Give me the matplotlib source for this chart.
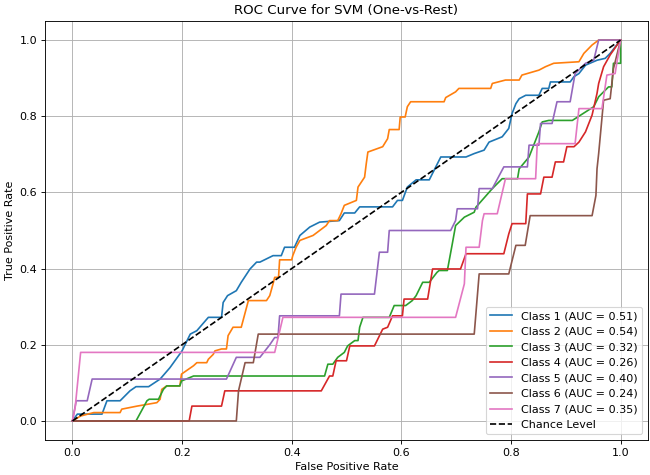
import matplotlib
matplotlib.use('Agg')
import matplotlib.pyplot as plt

# ROC points
fpr_1 = [0, .009, .054, .063, .087, .105, .116, .139, .16, .178, .2, .215, .227, .248, .272, .275, .283, .299, .308, .324, .336, .342, .366, .381, .387, .405, .415, .433, .451, .487, .496, .515, .524, .584, .593, .602, .611, .627, .651, .672, .718, .733, .751, .76, .784, .796, .802, .809, .815, .827, .851, .857, .869, .872, .908, .915, .924, .936, .957, .972, .981, 1]
tpr_1 = [0, .018, .018, .053, .053, .079, .09, .09, .11, .14, .184, .228, .237, .272, .272, .311, .329, .342, .364, .399, .417, .417, .434, .434, .456, .456, .487, .509, .522, .526, .546, .546, .562, .562, .579, .579, .614, .633, .633, .693, .693, .702, .711, .732, .746, .768, .807, .833, .846, .855, .855, .873, .873, .89, .89, .904, .912, .934, .947, .952, .965, 1]

fpr_2 = [0, .015, .039, .087, .09, .118, .154, .16, .163, .172, .196, .199, .208, .221, .227, .245, .248, .257, .26, .272, .281, .284, .293, .308, .321, .354, .36, .366, .369, .376, .378, .4, .402, .408, .415, .439, .451, .463, .469, .484, .49, .496, .518, .521, .533, .536, .539, .566, .575, .578, .596, .598, .607, .611, .617, .678, .681, .699, .705, .763, .766, .79, .815, .82, .851, .863, .878, .924, .933, .948, .96, 1]
tpr_2 = [0, .013, .022, .022, .031, .039, .048, .057, .083, .092, .092, .123, .132, .145, .153, .153, .162, .175, .184, .189, .189, .224, .246, .246, .316, .316, .329, .36, .377, .377, .423, .423, .434, .456, .474, .487, .5, .513, .526, .526, .544, .566, .579, .614, .64, .675, .706, .72, .741, .765, .765, .798, .798, .825, .838, .838, .849, .864, .873, .873, .886, .895, .895, .908, .921, .93, .939, .943, .965, .987, 1, 1]

fpr_3 = [0, .116, .136, .14, .157, .166, .172, .196, .199, .221, .46, .466, .475, .484, .496, .502, .515, .521, .524, .53, .578, .587, .608, .62, .627, .639, .651, .665, .669, .684, .693, .699, .715, .733, .736, .766, .784, .812, .815, .833, .851, .857, .869, .912, .951, .96, .978, .984, .987, 1, 1]
tpr_3 = [0, 0, .053, .057, .057, .083, .092, .092, .105, .118, .118, .149, .149, .167, .18, .197, .211, .211, .246, .272, .272, .303, .303, .316, .329, .364, .364, .39, .395, .395, .465, .513, .535, .548, .561, .61, .636, .636, .662, .693, .759, .785, .789, .789, .825, .851, .877, .877, .939, .939, 1]

fpr_4 = [0, .213, .218, .272, .278, .454, .469, .475, .481, .5, .506, .551, .566, .575, .584, .602, .605, .648, .657, .708, .718, .787, .796, .802, .827, .83, .854, .86, .875, .881, .896, .902, .915, .924, .936, .948, .957, .96, .969, .981, 1]
tpr_4 = [0, 0, .039, .039, .079, .079, .118, .118, .158, .158, .197, .197, .241, .246, .276, .276, .32, .32, .399, .399, .439, .439, .491, .518, .518, .596, .596, .64, .64, .68, .68, .72, .72, .732, .759, .803, .86, .886, .93, .961, 1]

fpr_5 = [0, .007, .027, .036, .281, .299, .342, .36, .369, .375, .378, .487, .49, .551, .56, .575, .578, .69, .699, .702, .739, .742, .766, .787, .83, .833, .851, .854, .875, .884, .908, .917, .936, .951, .96, 1]
tpr_5 = [0, .053, .053, .11, .11, .167, .167, .2, .219, .219, .276, .276, .333, .333, .443, .443, .5, .5, .526, .557, .557, .61, .61, .667, .667, .724, .724, .781, .781, .838, .838, .912, .939, .947, 1, 1]

fpr_6 = [0, .299, .303, .315, .33, .339, .733, .742, .796, .809, .826, .835, .948, .955, .957, .96, .969, .981, .987, 1]
tpr_6 = [0, 0, .079, .153, .153, .228, .228, .386, .386, .461, .461, .539, .539, .592, .662, .702, .842, .846, .925, 1]

fpr_7 = [0, .005, .015, .369, .384, .699, .715, .718, .742, .748, .751, .775, .79, .845, .848, .917, .924, .966, .975, .99, 1]
tpr_7 = [0, .035, .18, .18, .272, .272, .36, .456, .456, .526, .544, .544, .636, .636, .728, .728, .82, .82, .908, .912, 1]

auc_values = [0.51, 0.54, 0.32, 0.26, 0.40, 0.24, 0.35]
fprs = [fpr_1, fpr_2, fpr_3, fpr_4, fpr_5, fpr_6, fpr_7]
tprs = [tpr_1, tpr_2, tpr_3, tpr_4, tpr_5, tpr_6, tpr_7]

dpi = 80
fig = plt.figure(figsize=(650 / dpi, 475 / dpi), dpi=dpi)
for i in range(7):
    plt.plot(fprs[i], tprs[i], lw=1.5, label=f'Class {i+1} (AUC = {auc_values[i]:.2f})')
plt.plot([0, 1], [0, 1], 'k--', lw=1.5, label='Chance Level')
plt.xlabel('False Positive Rate')
plt.ylabel('True Positive Rate')
plt.title('ROC Curve for SVM (One-vs-Rest)')
plt.legend(loc='lower right')
plt.grid(True)
plt.subplots_adjust(left=45 / 650, right=648 / 650, top=1 - 21 / 475, bottom=1 - 440 / 475)
plt.savefig('out.png', dpi=dpi)
